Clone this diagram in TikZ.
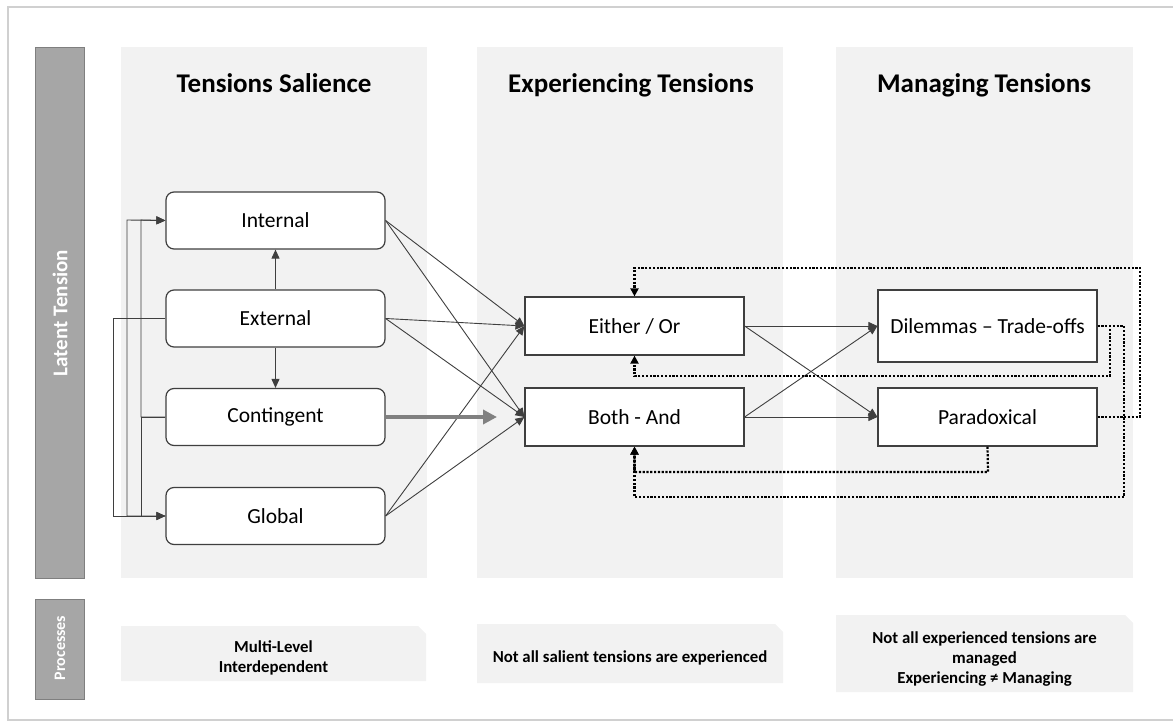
\documentclass[tikz,border=0pt]{standalone}
\usepackage{fontspec}
\setmainfont{Carlito}
\usetikzlibrary{shapes,arrows.meta,calc}

\definecolor{panelgray}{HTML}{F2F2F2}
\definecolor{bargray}{HTML}{A6A6A6}
\definecolor{barline}{HTML}{7F7F7F}
\definecolor{framegray}{HTML}{D0D0D0}
\definecolor{linkgray}{HTML}{3F3F3F}
\definecolor{fatgray}{HTML}{808080}

\begin{document}
\begin{tikzpicture} [x=1pt, y=-1pt,
				salient/.style={
				% The shape:
				rectangle, rounded corners=8pt,
				% The size:
      				minimum width=219pt, minimum height=57pt,
				% The border:
      				 line width=1.2pt,
     				 draw=linkgray,
      				% The filling:
				fill=white,
				font=\fontsize{21.5}{24}\selectfont
    				},
				stage/.style={
				% The shape:
				rectangle,
				% The size:
      				minimum width=219pt, minimum height=58pt,
				% The border:
      				line width=1.2pt, draw=linkgray,
      				% The filling:
				fill=white,
				font=\fontsize{21.5}{24}\selectfont
    				},
				title/.style={
				anchor=base,
				font=\fontsize{27}{30}\selectfont\bfseries
    				},
				note/.style={
				align=center,
				font=\fontsize{16.8}{20}\selectfont\bfseries
    				},
				bartext/.style={
				text=white, rotate=90,
				font=\fontsize{21}{24}\selectfont\bfseries
    				},
				link/.style={
				draw=linkgray, line width=0.9pt,
				-{Triangle[length=9pt,width=8pt]}
    				},
				feedback/.style={
				draw=black, line width=2.2pt, dash pattern=on 2.2pt off 1.6pt,
				-{Triangle[length=8pt,width=8pt]}
    				},
				]
    \useasboundingbox (0,0) rectangle (1173,722);
    \tikzstyle{every node} = [align=center]
   % frame and columns
    \draw[framegray, line width=2.5pt] (1190,7) -- (8,7) -- (8,720) -- (1190,720);
    \fill[panelgray] (121,47) rectangle (427,578);
    \fill[panelgray] (477,47) rectangle (783,578);
    \fill[panelgray] (836,47) rectangle (1133,578);
    \filldraw[fill=bargray, draw=barline, line width=1pt] (35,48) rectangle (84,578);
    \filldraw[fill=bargray, draw=barline, line width=1pt] (35,599) rectangle (84,699);
    \node [bartext] (latent) at (60,313) {Latent Tension};
    \node [bartext, font=\fontsize{16}{18}\selectfont\bfseries] (processes) at (60,648) {Processes};
   % bottom notes
    \fill[panelgray] (121,626) -- (418,626) -- (426,634) -- (426,681) -- (121,681) -- cycle;
    \fill[panelgray] (477,624) -- (775,624) -- (783,632) -- (783,683) -- (477,683) -- cycle;
    \fill[panelgray] (836,615) -- (1125,615) -- (1133,623) -- (1133,692) -- (836,692) -- cycle;
    \node [note] (levelNote) at (273.5,658) {Multi-Level\\Interdependent};
    \node [note] (expNote) at (630,658) {Not all salient tensions are experienced};
    \node [note] (mgmtNote) at (984.5,659) {Not all experienced tensions are\\managed\\Experiencing ≠ Managing};
   % titles
    \node [title] (salTitle) at (274,93) {Tensions Salience};
    \node [title] (expTitle) at (631,93) {Experiencing Tensions};
    \node [title] (mgmtTitle) at (984,93) {Managing Tensions};
   % boxes
    \node [salient] (internal) at (275.5,220.5) {Internal};
    \node [salient] (external) at (275.5,318.5) {External};
    \node [salient] (contingent) at (275.5,417) {Contingent};
    \node [salient] (global) at (275.5,516) {Global};
    \node [stage] (eitheror) at (634.5,326) {Either / Or};
    \node [stage] (bothand) at (634.5,417) {Both - And};
    \node [stage, minimum height=72pt] (dilemmas) at (987.5,326) {Dilemmas -- Trade-offs};
    \node [stage] (paradox) at (987.5,417) {Paradoxical};
   % left bus
    \coordinate (busA) at (113,516);
    \coordinate (busB) at (127,220);
    \coordinate (busCtop) at (141,220);
    \coordinate (busCbot) at (141,516);
    \draw[link] (external.west) -| (busA) -- (global.west);
    \draw[link] (global.west) -| (busB) -- (internal.west);
    \draw[link] (contingent.west) -| (busCtop) -- (internal.west);
    \draw[link] (contingent.west) -| (busCbot) -- (global.west);
    \draw[link] (external.north) -- (internal.south);
    \draw[link] (external.south) -- (contingent.north);
   % salience to experiencing
    \foreach \src in {internal, external, global}
        \foreach \dst in {eitheror, bothand}
            \draw[link] (\src.east) -- (\dst.west);
    \coordinate (fatEnd) at (497,417);
    \draw[fatgray, line width=4pt, -{Triangle[length=14pt,width=14pt]}] (contingent.east) -- (fatEnd);
   % experiencing to managing
    \foreach \src in {eitheror, bothand}
        \foreach \dst in {dilemmas, paradox}
            \draw[link] (\src.east) -- (\dst.west);
   % feedback loops
    \coordinate (loopTop) at (1140,268);
    \coordinate (loopMid) at (1110,376);
    \coordinate (loopLow) at (1124,497);
    \coordinate (parLow) at (988,472);
    \draw[feedback] (paradox.east) -| (loopTop) -| (eitheror.north);
    \draw[feedback] (dilemmas.east) -| (loopMid) -| (eitheror.south);
    \draw[feedback] (dilemmas.east) -| (loopLow) -| (bothand.south);
    \draw[feedback] (paradox.south) -- (parLow) -| (bothand.south);
\end{tikzpicture}
\end{document}
